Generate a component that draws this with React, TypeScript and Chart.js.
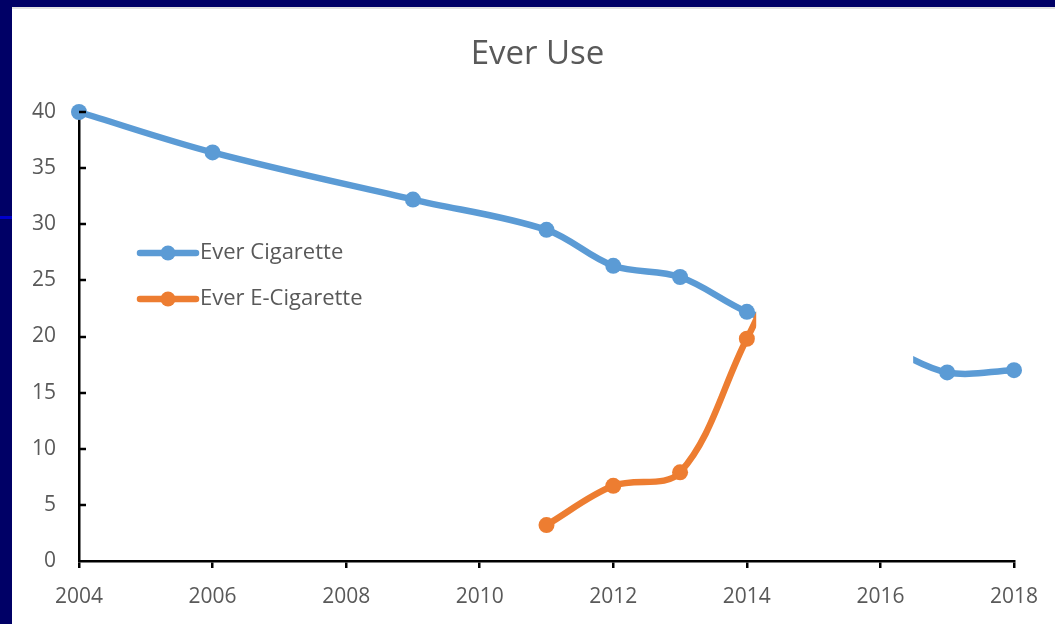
import React, { useEffect, useRef } from "react";
import { Chart, registerables } from "chart.js";

Chart.register(...registerables);

const TITLE = "Ever Use";
const CIG_LABEL = "Ever Cigarette";
const ECIG_LABEL = "Ever E-Cigarette";
const CIG_YEARS = [2004, 2006, 2009, 2011, 2012, 2013, 2014, 2015, 2016, 2017, 2018];
const CIG_VALUES = [40, 36.4, 32.2, 29.5, 26.3, 25.3, 22.2, 20.2, 19.2, 16.8, 17.0];
const ECIG_YEARS = [2011, 2012, 2013, 2014, 2015, 2016];
const ECIG_VALUES = [3.2, 6.7, 7.9, 19.8, 31, 35];
const X_MIN = 2004;
const X_MAX = 2018;
const X_STEP = 2;
const Y_MIN = 0;
const Y_MAX = 40;
const Y_STEP = 5;
// region of the slide covered by a white shape (in data units)
const COVER_X_FROM = 2014.14;
const COVER_X_TO = 2016.49;
const COVER_Y_BOTTOM = 12;

const BLUE = "#5B9BD5";
const ORANGE = "#ED7D31";
const TEXT = "#595959";
const FONT = "'Open Sans', 'DejaVu Sans', sans-serif";

export default function App() {
  const ref = useRef<HTMLCanvasElement | null>(null);

  useEffect(() => {
    const canvas = ref.current;
    if (!canvas) return;

    const cover = {
      id: "cover",
      afterDatasetsDraw(chart: any) {
        const { ctx, chartArea, scales } = chart;
        const x0 = scales.x.getPixelForValue(COVER_X_FROM);
        const x1 = scales.x.getPixelForValue(COVER_X_TO);
        const y1 = scales.y.getPixelForValue(COVER_Y_BOTTOM);
        ctx.save();
        ctx.fillStyle = "#ffffff";
        ctx.fillRect(x0, chartArea.top - 15, x1 - x0, y1 - chartArea.top + 15);
        ctx.restore();
      },
    };

    const extras = {
      id: "extras",
      afterDraw(chart: any) {
        const { ctx, chartArea, scales } = chart;
        ctx.save();
        // title
        ctx.fillStyle = TEXT;
        ctx.font = `33px ${FONT}`;
        ctx.textAlign = "center";
        ctx.textBaseline = "middle";
        ctx.fillText(TITLE, chart.width / 2 + 4, 46);
        // inward y tick marks
        ctx.strokeStyle = "#000";
        ctx.lineWidth = 2.5;
        scales.y.ticks.forEach((t: any) => {
          if (t.value <= Y_MIN) return;
          const py = Math.round(scales.y.getPixelForValue(t.value));
          ctx.beginPath();
          ctx.moveTo(chartArea.left, py);
          ctx.lineTo(chartArea.left + 7, py);
          ctx.stroke();
        });
        // legend inside the plot
        const items = [
          { label: CIG_LABEL, color: BLUE },
          { label: ECIG_LABEL, color: ORANGE },
        ];
        items.forEach((it, i) => {
          const y = chartArea.top + 141 + i * 46;
          const lx = chartArea.left + 61;
          ctx.strokeStyle = it.color;
          ctx.lineWidth = 6.5;
          ctx.lineCap = "round";
          ctx.beginPath();
          ctx.moveTo(lx, y);
          ctx.lineTo(lx + 56, y);
          ctx.stroke();
          ctx.fillStyle = it.color;
          ctx.beginPath();
          ctx.arc(lx + 28, y, 7.5, 0, Math.PI * 2);
          ctx.fill();
          ctx.fillStyle = TEXT;
          ctx.font = `22px ${FONT}`;
          ctx.textBaseline = "middle";
          ctx.textAlign = "left";
          ctx.fillText(it.label, lx + 60, y);
        });
        ctx.restore();
      },
    };

    const chart = new Chart(canvas, {
      type: "line",
      data: {
        datasets: [
          {
            label: CIG_LABEL,
            data: CIG_YEARS.map((x, i) => ({ x, y: CIG_VALUES[i] })),
            borderColor: BLUE,
            backgroundColor: BLUE,
            pointBackgroundColor: BLUE,
            pointBorderWidth: 0,
            pointRadius: 8,
            borderWidth: 6.5,
            tension: 0.35,
            clip: false,
            order: 1,
          },
          {
            label: ECIG_LABEL,
            data: ECIG_YEARS.map((x, i) => ({ x, y: ECIG_VALUES[i] })),
            borderColor: ORANGE,
            backgroundColor: ORANGE,
            pointBackgroundColor: ORANGE,
            pointBorderWidth: 0,
            pointRadius: 8,
            borderWidth: 6.5,
            tension: 0.35,
            clip: false,
            order: 0,
          },
        ],
      },
      options: {
        responsive: false,
        animation: false,
        devicePixelRatio: 1,
        layout: { padding: { left: 0, right: 41, top: 103, bottom: 0 } },
        plugins: {
          legend: { display: false },
          tooltip: { enabled: false },
          title: { display: false },
        },
        scales: {
          x: {
            type: "linear",
            min: X_MIN,
            max: X_MAX,
            afterFit: (s: any) => {
              s.height = 63;
            },
            ticks: {
              stepSize: X_STEP,
              color: TEXT,
              font: { family: FONT, size: 21 },
              padding: 16,
              maxRotation: 0,
              callback: (v: any) => String(v),
            },
            grid: {
              drawOnChartArea: false,
              drawTicks: true,
              tickLength: 7,
              color: "#000",
              lineWidth: 2.5,
            },
            border: { display: true, color: "#000", width: 2.5 },
          },
          y: {
            min: Y_MIN,
            max: Y_MAX,
            afterFit: (s: any) => {
              s.width = 67;
            },
            ticks: {
              stepSize: Y_STEP,
              color: TEXT,
              font: { family: FONT, size: 21 },
              padding: 23,
            },
            grid: { drawOnChartArea: false, drawTicks: false },
            border: { display: true, color: "#000", width: 2.5 },
          },
        },
      },
      plugins: [cover, extras],
    });

    return () => chart.destroy();
  }, []);

  return (
    <div
      style={{
        position: "fixed",
        left: 0,
        top: 0,
        width: 1055,
        height: 624,
        background: "#000066",
        overflow: "hidden",
      }}
    >
      <div
        style={{
          position: "absolute",
          left: 0,
          top: 216,
          width: 12,
          height: 3,
          background: "#0000cc",
        }}
      />
      <div
        style={{
          position: "absolute",
          left: 12,
          top: 7,
          width: 1043,
          height: 617,
          background: "#ffffff",
          borderTop: "2px solid #e2e2e2",
          boxSizing: "border-box",
        }}
      >
        <canvas
          ref={ref}
          width={1043}
          height={615}
          style={{ display: "block", width: 1043, height: 615 }}
        />
      </div>
    </div>
  );
}
